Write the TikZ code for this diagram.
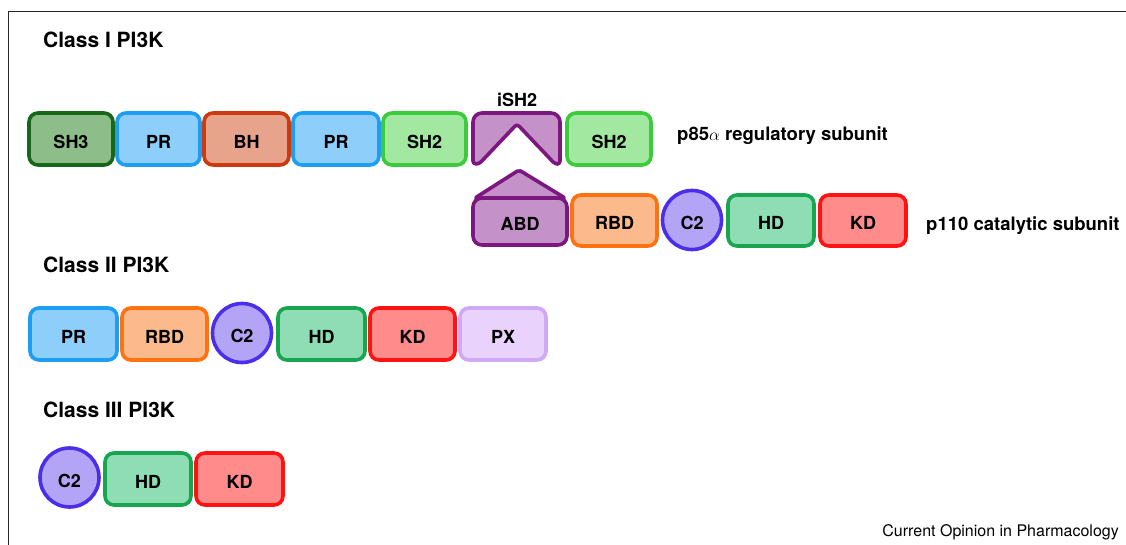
\documentclass[tikz,border=0pt]{standalone}
\usepackage{fontspec}
\setmainfont{TeX Gyre Heros}
\begin{document}
\begin{tikzpicture}[x=1pt,y=-1pt,
  lab/.style={font=\fontsize{18}{18}\selectfont\bfseries, text=black, text height=19pt, text depth=0pt},
  dom/.style={lab, rounded corners=9pt, line width=3.6pt, inner sep=0pt, minimum height=52pt},
  circ/.style={lab, circle, line width=3.6pt, inner sep=0pt, minimum size=59pt, draw=c2d, fill=c2f},
  head/.style={anchor=west, font=\fontsize{21}{21}\selectfont\bfseries, inner sep=0pt},
  sub/.style={anchor=west, font=\fontsize{18.5}{18.5}\selectfont\bfseries, inner sep=0pt},
  shthree/.style={dom, draw=sh3d, fill=sh3f},
  prbox/.style={dom, draw=prd, fill=prf},
  bhbox/.style={dom, draw=bhd, fill=bhf},
  shtwo/.style={dom, draw=sh2d, fill=sh2f},
  rbdbox/.style={dom, draw=rbdd, fill=rbdf},
  hdbox/.style={dom, draw=hdd, fill=hdf},
  kdbox/.style={dom, draw=kdd, fill=kdf},
  pxbox/.style={dom, draw=pxd, fill=pxf},
  purbox/.style={line width=3.6pt, draw=purd, fill=purf, line join=round}
]
\definecolor{sh3d}{HTML}{17671A}
\definecolor{sh3f}{HTML}{8DBE89}
\definecolor{prd}{HTML}{1E9EF2}
\definecolor{prf}{HTML}{8ECEFA}
\definecolor{bhd}{HTML}{CC3A12}
\definecolor{bhf}{HTML}{E8A38D}
\definecolor{sh2d}{HTML}{3CCB3C}
\definecolor{sh2f}{HTML}{A3E8A0}
\definecolor{purd}{HTML}{7B177F}
\definecolor{purf}{HTML}{C591C9}
\definecolor{rbdd}{HTML}{FF7210}
\definecolor{rbdf}{HTML}{FCB98B}
\definecolor{c2d}{HTML}{4B2EEA}
\definecolor{c2f}{HTML}{B3A4F6}
\definecolor{hdd}{HTML}{17A64F}
\definecolor{hdf}{HTML}{8EDDB4}
\definecolor{kdd}{HTML}{FF1212}
\definecolor{kdf}{HTML}{FF8B8B}
\definecolor{pxd}{HTML}{CFA8F6}
\definecolor{pxf}{HTML}{E9D3FC}

\useasboundingbox (0,0) rectangle (1126,545);
% frame
\draw[line width=1.3pt, black!85] (1126,11.5) -- (8.5,11.5) -- (8.5,545);

% headings
\node[head] (h1) at (43,40) {Class I PI3K};
\node[head] (h2) at (43,265) {Class II PI3K};
\node[head] (h3) at (43,410) {Class III PI3K};

% Class I p85
\node[shthree, minimum width=84pt] (a1) at (71,139) {SH3};
\node[prbox, minimum width=83pt] (a2) at (158.5,139) {PR};
\node[bhbox, minimum width=85pt] (a3) at (246.5,139) {BH};
\node[prbox, minimum width=86pt] (a4) at (336,139) {PR};
\node[shtwo, minimum width=83pt] (a5) at (424.5,139) {SH2};
\draw[purbox] (517,124) [rounded corners=3pt] -- (479,164) -- (473,164) [rounded corners=9pt] -- (473,113) -- (560,113) [rounded corners=3pt] -- (560,164) -- (555,164) -- cycle;
\node[font=\fontsize{18}{18}\selectfont\bfseries, inner sep=0pt] (ish2) at (517,100) {iSH2};
\node[shtwo, minimum width=84pt] (a7) at (609,139) {SH2};
\node[sub] (p85) at (677,136) {p85$\alpha$ regulatory subunit};

% Class I p110
\draw[purbox, rounded corners=2pt] (519,170) -- (565,198) -- (475,198) -- cycle;
\node[dom, draw=purd, fill=purf, minimum width=94pt, minimum height=47pt] (abd) at (520,221.5) {ABD};
\node[rbdbox, minimum width=85pt, minimum height=51pt] (b2) at (614.5,220.5) {RBD};
\node[circ] (b3) at (692,220) {C2};
\node[hdbox, minimum width=86pt, minimum height=51pt] (b4) at (771,220.5) {HD};
\node[kdbox, minimum width=86pt, minimum height=51pt] (b5) at (863,220.5) {KD};
\node[sub] (p110) at (926,226) {p110 catalytic subunit};

% Class II
\node[prbox, minimum width=87pt] (c1) at (73.5,334) {PR};
\node[rbdbox, minimum width=85pt] (c2) at (164.5,334) {RBD};
\node[circ] (c3) at (242,333) {C2};
\node[hdbox, minimum width=87pt] (c4) at (321.5,334) {HD};
\node[kdbox, minimum width=85pt] (c5) at (412.5,334) {KD};
\node[pxbox, minimum width=86pt] (c6) at (503,334) {PX};

% Class III
\node[circ] (d1) at (69.5,477.5) {C2};
\node[hdbox, minimum width=86pt] (d2) at (148,479) {HD};
\node[kdbox, minimum width=87pt] (d3) at (239.5,479) {KD};

\node[anchor=east, font=\fontsize{16}{16}\selectfont, inner sep=0pt] (src) at (1119,532) {Current Opinion in Pharmacology};
\end{tikzpicture}
\end{document}
